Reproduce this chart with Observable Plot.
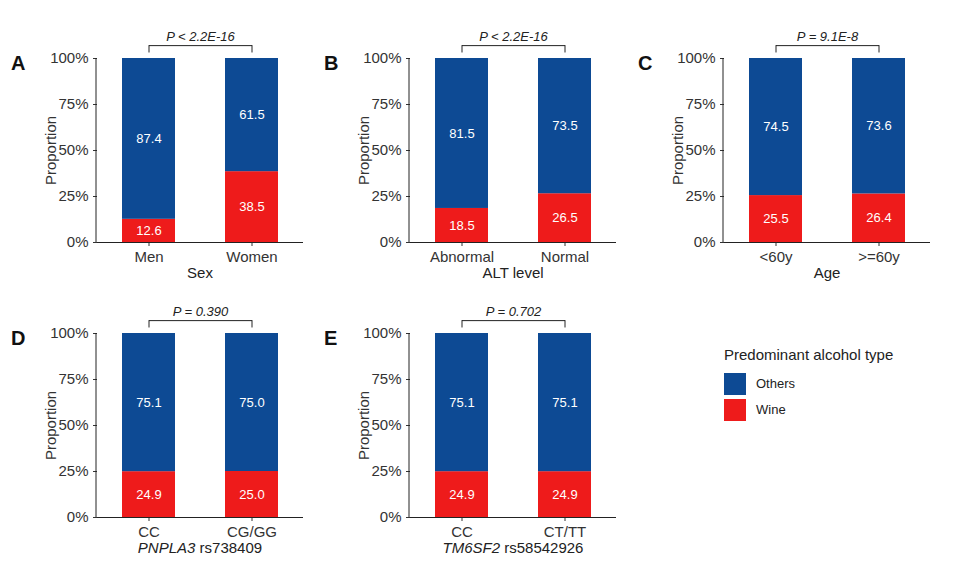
<!DOCTYPE html>
<html><head><meta charset="utf-8">
<script src="https://cdn.jsdelivr.net/npm/d3@7"></script>
<script src="https://cdn.jsdelivr.net/npm/@observablehq/plot@0.6"></script>
<style>
body{margin:0;background:#fff;font-family:"Liberation Sans",Arial,sans-serif;}
#c{position:relative;width:958px;height:573px;}
.abs{position:absolute;white-space:nowrap;}
</style></head><body><div id="c"></div>
<script>
const panelLetters = ["A","B","C","D","E"];
const categories = [["Men","Women"],["Abnormal","Normal"],["<60y",">=60y"],["CC","CG/GG"],["CC","CT/TT"]];
const wine = [[12.6,38.5],[18.5,26.5],[25.5,26.4],[24.9,25.0],[24.9,24.9]];
const others = [[87.4,61.5],[81.5,73.5],[74.5,73.6],[75.1,75.0],[75.1,75.1]];
const pValues = ["P < 2.2E-16","P < 2.2E-16","P = 9.1E-8","P = 0.390","P = 0.702"];
const xTitles = ["Sex","ALT level","Age","<i>PNPLA3</i> rs738409","<i>TM6SF2</i> rs58542926"];
const yTicks = [0,25,50,75,100];
const seriesNames = ["Others","Wine"];
const colors = ["#0d4a94","#ee1b1b"];

const axisX = [97,410,724,97,410];
const topY = [58,58,58,333,333];
const mL=62, mT=32, mB=30, W=206, H=184;
const c = document.getElementById("c");

panelLetters.forEach((L,i)=>{
  const rows=[];
  categories[i].forEach((cat,j)=>{
    rows.push({cat,s:"Wine",y1:0,y2:wine[i][j],v:wine[i][j]});
    rows.push({cat,s:"Others",y1:wine[i][j],y2:100,v:others[i][j]});
  });
  const [c0,c1]=categories[i];
  const p = Plot.plot({
    width:mL+W+4, height:mT+H+mB, marginLeft:mL, marginRight:4, marginTop:mT, marginBottom:mB,
    style:{fontFamily:"Liberation Sans, Arial, sans-serif",fontSize:"15px",color:"#333",overflow:"visible"},
    x:{domain:categories[i],paddingInner:0.485,paddingOuter:0.2425,label:null,tickSize:4},
    y:{domain:[0,100],ticks:yTicks,tickFormat:d=>d+"%",label:"Proportion",labelAnchor:"center",labelArrow:"none",labelOffset:52,tickSize:4},
    color:{domain:seriesNames,range:colors},
    marks:[
      Plot.barY(rows,{x:"cat",y1:"y1",y2:"y2",fill:"s"}),
      Plot.text(rows,{x:"cat",y:d=>(d.y1+d.y2)/2,text:d=>d.v.toFixed(1),fill:"white",fontSize:13}),
      Plot.ruleY([0],{stroke:"#222"}),
      Plot.ruleX([0],{x:()=>c0,dx:-53,stroke:"#222"}),
      Plot.link([{a:c0,b:c1}],{x1:"a",x2:"b",y1:107,y2:107,stroke:"#222"}),
      Plot.ruleX([c0,c1],{y1:103,y2:107,stroke:"#222"}),
      Plot.text([pValues[i]],{x:()=>c0,dx:51.5,y:112,text:d=>d,fontStyle:"italic",fontSize:13,fill:"#222"})
    ]
  });
  p.style.position="absolute";
  p.style.left=(axisX[i]-mL)+"px";
  p.style.top=(topY[i]-mT)+"px";
  c.appendChild(p);
  const lt=document.createElement("div");lt.className="abs";
  lt.style.cssText=`left:${axisX[i]-86}px;top:${topY[i]-6}px;font-size:20px;font-weight:bold;color:#111`;
  lt.textContent=L;c.appendChild(lt);
  const xt=document.createElement("div");xt.className="abs";
  xt.style.cssText=`left:${axisX[i]}px;width:${W}px;text-align:center;top:${topY[i]+H+22}px;font-size:15px;color:#222`;
  xt.innerHTML=xTitles[i];c.appendChild(xt);
});
// y axis lines
const lg=document.createElement("div");lg.className="abs";
lg.style.cssText="left:724px;top:345px;font-size:15px;color:#222;line-height:20px";
lg.innerHTML=`<div style="white-space:normal;width:170px">Predominant alcohol type</div>`+
 seriesNames.map((n,k)=>`<div style="display:flex;align-items:center;margin-top:${k?4:8}px"><span style="display:inline-block;width:22px;height:22px;background:${colors[k]};margin-right:10px"></span><span style="font-size:13px">${n}</span></div>`).join("");
c.appendChild(lg);
</script></body></html>
